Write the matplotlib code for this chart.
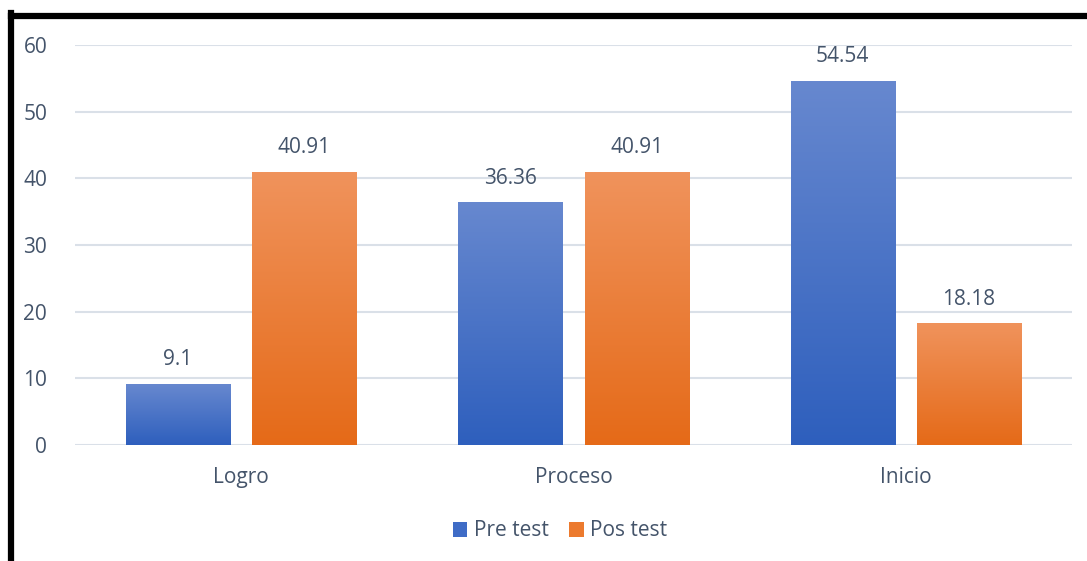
import numpy as np
import matplotlib.pyplot as plt
from matplotlib.colors import LinearSegmentedColormap
from matplotlib.lines import Line2D
from matplotlib.patches import Patch

categories = ["Logro", "Proceso", "Inicio"]
pre_test = [9.1, 36.36, 54.54]
pos_test = [40.91, 40.91, 18.18]
series_names = ["Pre test", "Pos test"]

TEXT = "#44546a"
GRID = "#dae0e8"
BLUE = ("#2e5fbd", "#6788cf")
ORANGE = ("#e56a18", "#f0935c")

plt.rcParams["font.family"] = ["Open Sans", "DejaVu Sans"]

W, H = 1087, 561
fig = plt.figure(figsize=(W / 100, H / 100), dpi=100)
ax = fig.add_axes([75 / W, 1 - 445 / H, 997 / W, 400 / H])

x = np.arange(len(categories))
width = 0.313
offset = 0.19

grad = np.linspace(0, 1, 256).reshape(-1, 1)


def gradient_bars(xs, vals, colors):
    cmap = LinearSegmentedColormap.from_list("g", list(colors))
    for xc, v in zip(xs, vals):
        ax.imshow(grad, cmap=cmap, origin="lower", aspect="auto",
                  extent=[xc - width / 2, xc + width / 2, 0, v], zorder=2)
        ax.text(xc, v + 2.1, f"{v:g}", ha="center", va="bottom",
                fontsize=15, color=TEXT)


gradient_bars(x - offset, pre_test, BLUE)
gradient_bars(x + offset, pos_test, ORANGE)

ax.set_xlim(-0.5, 2.5)
ax.set_ylim(0, 60)
ax.set_yticks(range(0, 61, 10))
ax.set_xticks(x)
ax.set_xticklabels(categories)
ax.grid(axis="y", color=GRID, lw=1.5, zorder=0)
ax.set_axisbelow(True)
for s in ax.spines.values():
    s.set_visible(False)
ax.tick_params(length=0, labelsize=15, labelcolor=TEXT)
ax.tick_params(axis="y", pad=20)
ax.tick_params(axis="x", pad=16)

handles = [Patch(facecolor="#3f6cc6", edgecolor="none"),
           Patch(facecolor="#ec7a2e", edgecolor="none")]
fig.legend(handles, series_names, loc="center", bbox_to_anchor=(560 / W, 1 - 531 / H),
           ncol=2, frameon=False, fontsize=15, labelcolor=TEXT,
           handlelength=0.7, handleheight=0.7, handletextpad=0.3, columnspacing=1.0)

# black frame on left and top
fig.add_artist(Line2D([11 / W, 11 / W], [0, 1 - 13 / H], color="black", lw=4.5,
                      transform=fig.transFigure, solid_capstyle="projecting"))
fig.add_artist(Line2D([11 / W, 1], [1 - 16 / H, 1 - 16 / H], color="black", lw=4.5,
                      transform=fig.transFigure, solid_capstyle="projecting"))

fig.savefig("out.png", dpi=100)
